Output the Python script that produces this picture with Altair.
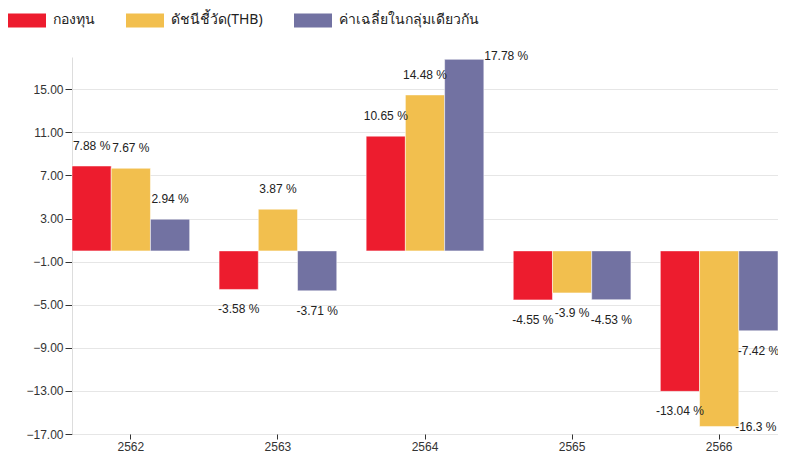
import altair as alt
import pandas as pd

years = ["2562", "2563", "2564", "2565", "2566"]
series = ["กองทุน", "ดัชนีชี้วัด(THB)", "ค่าเฉลี่ยในกลุ่มเดียวกัน"]
fund = [7.88, -3.58, 10.65, -4.55, -13.04]
bench = [7.67, 3.87, 14.48, -3.9, -16.3]
peer = [2.94, -3.71, 17.78, -4.53, -7.42]
colors = ["#ED1C2E", "#F2BF4E", "#7272A2"]
y_ticks = [-17, -13, -9, -5, -1, 3, 7, 11, 15]

rows = []
for vals, s in zip([fund, bench, peer], series):
    for y, v in zip(years, vals):
        rows.append({"year": y, "series": s, "value": v, "label": f"{v:g} %"})
df = pd.DataFrame(rows)

font = "Liberation Sans"
x = alt.X("year:N", sort=years, title=None,
          scale=alt.Scale(paddingInner=0.2, paddingOuter=0),
          axis=alt.Axis(labelAngle=0, domain=False, ticks=True, tickSize=5,
                        tickColor="#333", labelColor="#333", labelFont=font,
                        labelFontSize=12, labelPadding=2, grid=False))
xo = alt.XOffset("series:N", sort=series, scale=alt.Scale(paddingInner=0))
y = alt.Y("value:Q", title=None,
          scale=alt.Scale(domain=[-17, 18], nice=False, zero=False),
          axis=alt.Axis(values=y_ticks, format=".2f", domainColor="#ddd",
                        tickColor="#333", tickSize=7, labelPadding=2,
                        labelColor="#333", labelFont=font, labelFontSize=12,
                        gridColor="#e6e6e6"))

bars = alt.Chart(df).mark_bar(stroke="white", strokeWidth=0.5).encode(
    x=x, xOffset=xo, y=y, y2=alt.datum(0),
    color=alt.Color("series:N", sort=series,
                    scale=alt.Scale(domain=series, range=colors),
                    legend=alt.Legend(title=None, orient="none", direction="horizontal",
                                      legendX=-64, legendY=-56,
                                      symbolType="M-1,-0.37H1V0.37H-1Z",
                                      symbolSize=1444, symbolStrokeWidth=0,
                                      labelFont="Noto Sans", labelFontSize=14,
                                      labelColor="#222", columnPadding=31,
                                      labelOffset=7)),
)

def labels(cond, **kw):
    return alt.Chart(df).transform_filter(cond).mark_text(
        font=font, fontSize=12, color="#222", **kw
    ).encode(x=x, xOffset=xo, y=y, text="label:N", detail="series:N")

pos_text = labels("datum.value >= 0 && datum.value < 16", dy=-20)
neg_text = labels("datum.value < 0 && datum.value > -15", dy=20)
top_text = labels("datum.value >= 16", dy=-3, dx=20, align="left")
bot_text = labels("datum.value <= -15", dy=1, dx=16, align="left")

chart = alt.layer(bars, pos_text, neg_text, top_text, bot_text).properties(
    width=706, height=377,
    autosize=alt.AutoSizeParams(type="none"),
    padding={"left": 64, "top": 49, "right": 0, "bottom": 19},
).configure_view(stroke=None)

chart.save("out.html", embed_options={"renderer": "svg", "actions": False})
